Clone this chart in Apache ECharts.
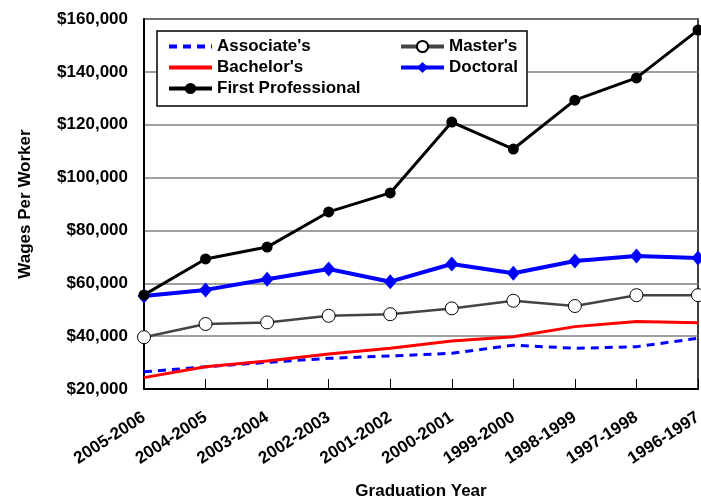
<!DOCTYPE html>
<html>
<head>
<meta charset="utf-8">
<script src="https://cdn.jsdelivr.net/npm/echarts@6/dist/echarts.min.js"></script>
<style>
  html, body { margin: 0; padding: 0; background: #fff; }
  #chart { width: 701px; height: 500px; }
</style>
</head>
<body>
<div id="chart"></div>
<script>
// graduation years, newest first as in the source chart
const years = ['2005-2006', '2004-2005', '2003-2004', '2002-2003', '2001-2002',
               '2000-2001', '1999-2000', '1998-1999', '1997-1998', '1996-1997'];

// wages per worker
const associates   = [26500, 28400, 30100, 31600, 32500, 33500, 36600, 35400, 36000, 39200];
const bachelors    = [24300, 28400, 30600, 33200, 35400, 38200, 39800, 43600, 45500, 45100];
const masters      = [39600, 44600, 45200, 47700, 48300, 50500, 53400, 51400, 55500, 55500];
const doctoral     = [55200, 57500, 61500, 65400, 60600, 67300, 63800, 68400, 70300, 69600];
const firstProf    = [55600, 69200, 73700, 87000, 94200, 121000, 110800, 129300, 137700, 155800];

const yTicks = [20000, 40000, 60000, 80000, 100000, 120000, 140000, 160000];

const font = "'Liberation Sans', Arial, sans-serif";

const chart = echarts.init(document.getElementById('chart'));

function money(v) {
  return '$' + String(v).replace(/\B(?=(\d{3})+(?!\d))/g, ',');
}

// legend text style shared by both legend columns
const legendText = { fontFamily: font, fontWeight: 'bold', fontSize: 17, color: '#000' };

const option = {
  animation: false,
  backgroundColor: '#fff',
  textStyle: { fontFamily: font },
  grid: {
    left: 144, right: 3, top: 19, bottom: 111,
    outerBoundsMode: 'none',
    containLabel: false,
    show: true, borderColor: '#000', borderWidth: 1.5
  },
  graphic: [{
    type: 'rect',
    shape: { x: 157, y: 31, width: 370, height: 75 },
    style: { fill: '#fff', stroke: '#000', lineWidth: 1.5 },
    z: 5
  }],
  legend: [{
    orient: 'vertical', left: 162, top: 33,
    itemWidth: 43, itemHeight: 14, itemGap: 4,
    textStyle: legendText,
    lineStyle: { width: 4 },
    data: [
      { name: "Associate's", itemStyle: { opacity: 0 } },
      { name: "Bachelor's", itemStyle: { opacity: 0 } },
      { name: 'First Professional' }
    ],
    z: 10
  }, {
    orient: 'vertical', left: 394, top: 33,
    itemWidth: 43, itemHeight: 14, itemGap: 4,
    textStyle: legendText,
    lineStyle: { width: 4 },
    data: ["Master's", 'Doctoral'],
    z: 10
  }],
  xAxis: {
    type: 'category',
    data: years,
    boundaryGap: false,
    name: 'Graduation Year',
    nameLocation: 'middle',
    nameGap: 94,
    nameTextStyle: { fontFamily: font, fontWeight: 'bold', fontSize: 17, color: '#000' },
    axisLine: { lineStyle: { color: '#000', width: 2 } },
    axisTick: { inside: true, length: 10, lineStyle: { color: '#000', width: 1 } },
    axisLabel: {
      rotate: 33, margin: 27, interval: 0,
      fontFamily: font, fontWeight: 'bold', fontSize: 17, color: '#000'
    },
    splitLine: { show: false }
  },
  yAxis: {
    type: 'value',
    min: yTicks[0], max: yTicks[yTicks.length - 1], interval: 20000,
    name: 'Wages Per Worker',
    nameLocation: 'middle',
    nameGap: 110,
    nameTextStyle: { fontFamily: font, fontWeight: 'bold', fontSize: 17, color: '#000' },
    axisLine: { show: true, lineStyle: { color: '#000', width: 2 } },
    axisTick: { show: false },
    axisLabel: {
      margin: 16, formatter: money,
      fontFamily: font, fontWeight: 'bold', fontSize: 17, color: '#000'
    },
    splitLine: { lineStyle: { color: '#808080', width: 1.5 } }
  },
  series: [
    {
      name: "Associate's", type: 'line', data: associates,
      showSymbol: false, symbol: 'none',
      lineStyle: { color: '#0000ff', width: 3, type: [8, 6] },
      itemStyle: { color: '#0000ff' }
    },
    {
      name: "Bachelor's", type: 'line', data: bachelors,
      showSymbol: false, symbol: 'none',
      lineStyle: { color: '#ff0000', width: 3 },
      itemStyle: { color: '#ff0000' }
    },
    {
      name: "Master's", type: 'line', data: masters,
      symbol: 'circle', symbolSize: 13,
      lineStyle: { color: '#444', width: 2.5 },
      itemStyle: { color: '#fff', borderColor: '#000', borderWidth: 1 }
    },
    {
      name: 'Doctoral', type: 'line', data: doctoral,
      symbol: 'diamond', symbolSize: [13, 15],
      lineStyle: { color: '#0000ff', width: 4 },
      itemStyle: { color: '#0000ff' }
    },
    {
      name: 'First Professional', type: 'line', data: firstProf,
      symbol: 'circle', symbolSize: 11,
      lineStyle: { color: '#000', width: 3 },
      itemStyle: { color: '#000' }
    }
  ]
};

chart.setOption(option);
</script>
</body>
</html>
